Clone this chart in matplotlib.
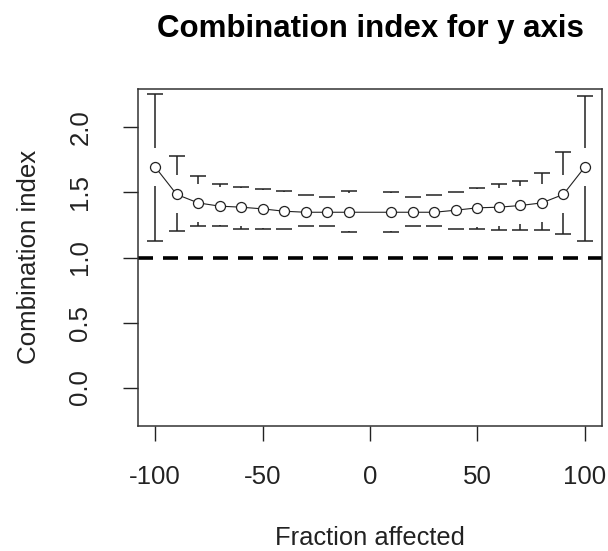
import matplotlib
matplotlib.use("Agg")
import matplotlib.pyplot as plt
import numpy as np

plt.rcParams['font.family'] = ['Liberation Sans', 'DejaVu Sans']

# ---- data ----
fraction = [-100, -90, -80, -70, -60, -50, -40, -30, -20, -10,
            10, 20, 30, 40, 50, 60, 70, 80, 90, 100]
ci = [1.696, 1.485, 1.420, 1.395, 1.387, 1.374, 1.356, 1.348, 1.348, 1.348,
      1.348, 1.348, 1.348, 1.364, 1.382, 1.387, 1.400, 1.420, 1.485, 1.696]
ci_upper = [2.258, 1.781, 1.627, 1.562, 1.542, 1.524, 1.511, 1.477, 1.467, 1.511,
            1.503, 1.467, 1.477, 1.500, 1.535, 1.562, 1.588, 1.647, 1.812, 2.245]
ci_lower = [1.129, 1.206, 1.240, 1.240, 1.222, 1.222, 1.222, 1.240, 1.240, 1.194,
            1.194, 1.240, 1.240, 1.222, 1.219, 1.214, 1.214, 1.214, 1.181, 1.129]
x_ticks = [-100, -50, 0, 50, 100]
y_ticks = [0.0, 0.5, 1.0, 1.5, 2.0]
y_tick_labels = ["0.0", "0.5", "1.0", "1.5", "2.0"]
reference_ci = 1.0

W, H = 608, 551
fig = plt.figure(figsize=(W / 100, H / 100), dpi=100)
ax = fig.add_axes([138 / W, 1 - 426 / H, (602 - 138) / W, (426 - 89) / H])
ax.set_xlim(-108, 108)
ax.set_ylim(-0.296, 2.296)

x = np.array(fraction, dtype=float)
y = np.array(ci)
up = np.array(ci_upper)
lo = np.array(ci_lower)

# gap around points (plotCI style), computed in pixel space
fig.canvas.draw()
px_per_unit = (ax.transData.transform((0, 1))[1] - ax.transData.transform((0, 0))[1])
gap = 19 / px_per_unit

lc = '#222222'
m_up = up > y + gap
ax.vlines(x[m_up], (y + gap)[m_up], up[m_up], color=lc, lw=1.1, zorder=2)
m_lo = lo < y - gap
ax.vlines(x[m_lo], lo[m_lo], (y - gap)[m_lo], color=lc, lw=1.1, zorder=2)
ax.plot(x, up, ls='none', marker='_', ms=11, mew=1.1, color=lc, zorder=2)
ax.plot(x, lo, ls='none', marker='_', ms=11, mew=1.1, color=lc, zorder=2)

ax.plot(x, y, color=lc, lw=0.8, marker='o', ms=7.2, mfc='white', mec=lc, mew=0.9, zorder=3)

plt.rcParams['lines.scale_dashes'] = False
ax.axhline(reference_ci, color='black', lw=2.6, ls=(0, (10.8, 7.2)), zorder=1)

ax.set_xticks(x_ticks)
ax.set_xticklabels([str(v) for v in x_ticks])
ax.set_yticks(y_ticks)
ax.set_yticklabels(y_tick_labels, rotation=90, va='center')
ax.tick_params(axis='both', length=10.8, width=1.0, colors='#222222', labelsize=18.6, labelcolor='#222222')
ax.tick_params(axis='x', pad=17)
ax.tick_params(axis='y', pad=22)
for s in ax.spines.values():
    s.set_linewidth(1.1)
    s.set_color('#333333')

fig.text(370 / W, 1 - 545 / H, "Fraction affected", ha='center', va='baseline', fontsize=18.4, color='#222222')
fig.text(29 / W, 1 - 257 / H, "Combination index", ha='center', va='center', rotation=90, fontsize=18.6, color='#222222')
fig.text(370 / W, 1 - 37 / H, "Combination index for y axis", ha='center', va='baseline',
         fontsize=22.5, fontweight='bold', color='black')

fig.savefig("out.png", dpi=100)
